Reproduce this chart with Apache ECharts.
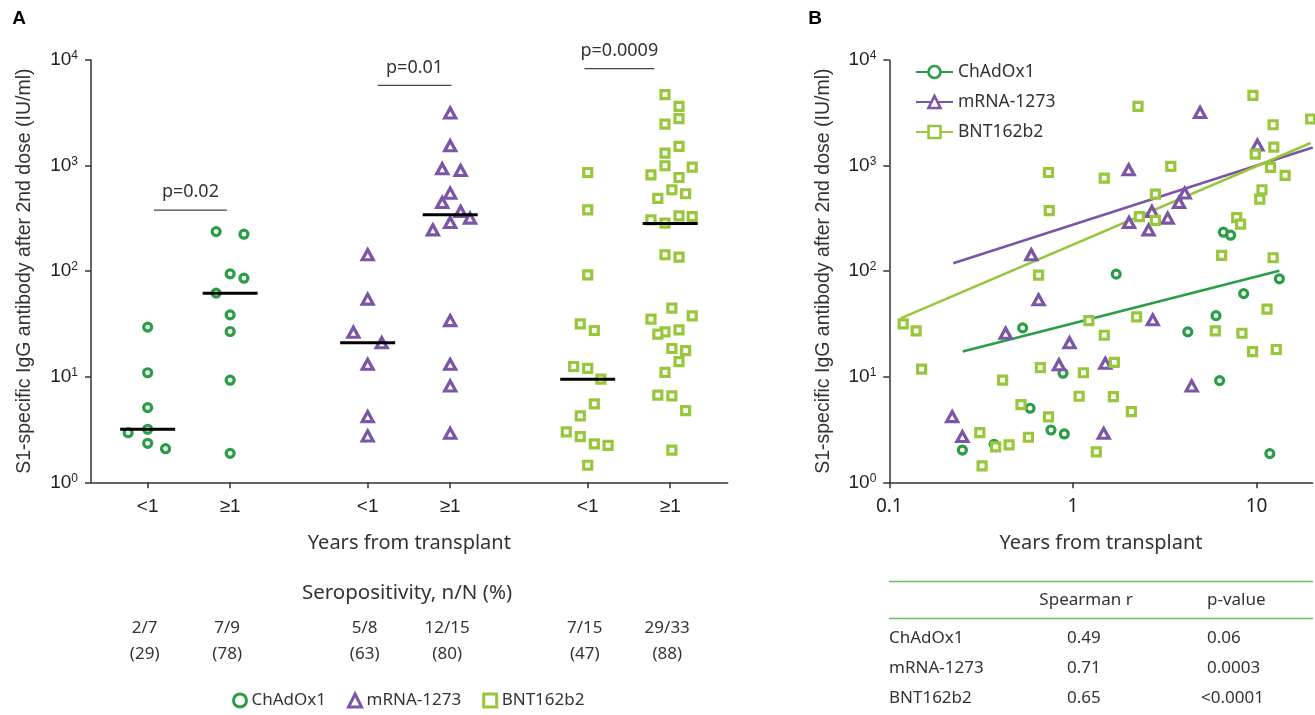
<!DOCTYPE html>
<html><head><meta charset="utf-8">
<script src="https://cdn.jsdelivr.net/npm/echarts@6/dist/echarts.min.js"></script>
<style>html,body{margin:0;padding:0;background:#fff}#c{width:1315px;height:715px}</style>
</head><body><div id="c"></div>
<script>
// ---------- shared ----------
const vaccines = ['ChAdOx1', 'mRNA-1273', 'BNT162b2'];
const colors = ['#2a9d47', '#7b55a6', '#98c73c'];
const symbols = ['circle', 'triangle', 'rect'];
const symbolSizes = [8, [11, 10], 8];
const yTitle = 'S1-specific IgG antibody after 2nd dose (IU/ml)';
const xTitle = 'Years from transplant';

// ---------- panel A ----------
const groupLabels = ['<1', '≥1', '<1', '≥1', '<1', '≥1'];
const groupPos = [0, 3, 8, 11, 16, 19];
const chadLt = [29.5, 10.9, 5.1, 3.18, 2.95, 2.34, 2.08];
const chadLtJitter = [0, 0, 0, 0, -0.71, 0, 0.65];
const chadGe = [237, 224, 94.3, 85.8, 61.9, 38.5, 26.8, 9.27, 1.88];
const chadGeJitter = [-0.51, 0.5, 0, 0.5, -0.51, 0, 0, 0, 0];
const mrnaLt = [143, 54.3, 26.4, 21.0, 13.1, 4.19, 2.75];
const mrnaLtJitter = [0, 0, -0.52, 0.51, 0, 0, 0];
const mrnaGe = [3147, 1542, 933, 899, 548, 447, 367, 318, 289, 246, 34.0, 13.1, 8.18, 2.91];
const mrnaGeJitter = [0, 0, -0.29, 0.38, 0, -0.29, 0.38, 0.72, 0, -0.63, 0, 0, 0, 0];
const bntLt = [860, 381, 92.2, 31.7, 27.4, 12.5, 12.0, 9.47, 5.52, 4.25, 3.0, 2.71, 2.31, 2.24, 1.45];
const bntLtJitter = [0, 0, 0, -0.27, 0.24, -0.51, 0, 0.48, 0.24, -0.27, -0.78, -0.27, 0.24, 0.74, 0];
const bntGe = [4690, 3631, 2779, 2473, 1517, 1313, 996, 968, 818, 771, 590, 541, 488, 306, 334, 329, 285, 143, 136,
  44.6, 37.7, 35.1, 27.8, 26.6, 25.3, 18.5, 17.7, 13.9, 11.0, 6.68, 6.58, 4.77, 2.02];
const bntGeJitter = [-0.19, 0.32, 0.32, -0.19, 0.32, -0.19, -0.19, 0.8, -0.7, 0.32, 0.06, 0.56, -0.45, -0.7, 0.32, 0.8, -0.19, -0.19, 0.32,
  0.06, 0.8, -0.7, 0.32, -0.19, -0.45, 0.06, 0.56, 0.32, -0.19, -0.45, 0.06, 0.56, 0.06];
const medians = [3.18, 61.9, 21.0, 342, 9.47, 283];
const pLabels = ['p=0.02', 'p=0.01', 'p=0.0009'];
const pStart = [0.23, 8.36, 15.88];
const pEnd = [2.88, 11.05, 18.42];
const pLevel = [378, 5741, 8277];
const seroFrac = ['2/7', '7/9', '5/8', '12/15', '7/15', '29/33'];
const seroPct = ['(29)', '(78)', '(63)', '(80)', '(47)', '(88)'];

// ---------- panel B ----------
const xTicksB = [0.1, 1, 10];
const chadB = [[0.532, 29.0], [0.883, 10.8], [0.584, 5.03], [0.759, 3.13], [0.897, 2.87], [0.372, 2.29], [0.250, 2.02],
  [1.72, 93.7], [6.59, 234], [7.22, 219], [13.3, 84.6], [8.50, 61.3], [6.01, 37.9], [4.22, 26.6], [6.29, 9.18], [11.8, 1.87]];
const mrnaB = [[0.593, 143], [0.650, 53.5], [0.430, 25.8], [0.958, 21.0], [0.839, 13.0], [0.220, 4.19], [0.250, 2.71],
  [4.92, 3187], [10.1, 1563], [2.01, 912], [4.06, 549], [3.78, 447], [2.69, 367], [3.28, 318], [2.02, 289], [2.58, 246],
  [2.72, 34.6], [1.50, 13.4], [4.43, 8.18], [1.47, 2.91]];
const bntB = [[0.736, 860], [0.743, 375], [0.650, 91.6], [0.119, 31.7], [0.140, 27.2], [0.150, 11.8], [0.414, 9.27],
  [0.664, 12.2], [1.14, 10.9], [1.22, 34.0], [1.08, 6.53], [0.521, 5.44], [0.736, 4.16], [0.311, 2.95], [0.379, 2.17],
  [0.449, 2.26], [0.572, 2.67], [0.320, 1.43], [1.34, 1.94],
  [2.26, 3631], [9.55, 4617], [12.3, 2436], [19.7, 2761], [12.4, 1497], [9.83, 1285], [3.41, 982], [11.9, 960], [1.48, 762],
  [14.3, 806], [10.7, 590], [10.4, 481], [2.81, 537], [2.30, 329], [2.81, 302], [7.79, 322], [8.18, 279], [6.45, 141],
  [12.3, 134], [11.4, 43.6], [2.22, 36.9], [1.48, 24.7], [5.96, 27.2], [8.32, 25.8], [9.51, 17.3], [12.8, 18.1],
  [1.68, 13.7], [1.66, 6.48], [2.08, 4.67]];
const chadFit = [[0.251, 17.3], [13.3, 101]];
const mrnaFit = [[0.223, 119], [20.2, 1484]];
const bntFit = [[0.116, 35.9], [19.7, 1634]];
const tableHeader = ['Spearman r', 'p-value'];
const spearmanR = ['0.49', '0.71', '0.65'];
const pValues = ['0.06', '0.0003', '<0.0001'];

// ---------- build ----------
const SANS = '"Noto Sans", sans-serif';
const ARIAL = '"Liberation Sans", Arial, sans-serif';
const INK = '#333';
const STROKE = 3.2;

function yAxisDef(gi) {
  return {
    gridIndex: gi, type: 'log', logBase: 10, min: 1, max: 10000,
    axisLine: { show: true, onZero: false, lineStyle: { color: INK, width: 1.5 } },
    axisTick: { show: true, length: 6, lineStyle: { color: INK, width: 1.5 } },
    splitLine: { show: false }, minorTick: { show: false },
    axisLabel: {
      formatter: v => '10{s|' + Math.round(Math.log10(v)) + '}',
      fontFamily: ARIAL, fontSize: 19, color: '#222', margin: 13, lineHeight: 20,
      rich: { s: { fontFamily: ARIAL, fontSize: 12, color: '#222', verticalAlign: 'top', lineHeight: 12 } }
    },
    name: yTitle, nameLocation: 'middle', nameRotate: 90, nameGap: 56,
    nameTextStyle: { fontFamily: ARIAL, fontSize: 19.5, color: INK }
  };
}

const pairs = [
  [[chadLt, chadLtJitter, 0], [chadGe, chadGeJitter, 1]],
  [[mrnaLt, mrnaLtJitter, 2], [mrnaGe, mrnaGeJitter, 3]],
  [[bntLt, bntLtJitter, 4], [bntGe, bntGeJitter, 5]]
];
const bData = [chadB, mrnaB, bntB];
const fits = [chadFit, mrnaFit, bntFit];

const markStyle = k => ({ color: '#fff', borderColor: colors[k], borderWidth: STROKE, opacity: 1 });
const series = [];
// panel B fit lines first (legend icons)
vaccines.forEach((v, k) => {
  series.push({
    name: v, type: 'line', xAxisIndex: 1, yAxisIndex: 1, data: fits[k],
    symbol: symbols[k], symbolSize: 11, showSymbol: false, silent: true,
    lineStyle: { color: colors[k], width: 2.6 },
    itemStyle: markStyle(k), z: 2
  });
});
vaccines.forEach((v, k) => {
  const data = [];
  pairs[k].forEach(([vals, jit, g]) => vals.forEach((y, i) => data.push([groupPos[g] + jit[i], y])));
  series.push({
    name: 'A:' + v, type: 'scatter', xAxisIndex: 0, yAxisIndex: 0, data,
    symbol: symbols[k], symbolSize: symbolSizes[k], clip: false, large: false,
    itemStyle: markStyle(k), z: 3
  });
  series.push({
    name: v, type: 'scatter', xAxisIndex: 1, yAxisIndex: 1, data: bData[k],
    symbol: symbols[k], symbolSize: symbolSizes[k], clip: false, large: false,
    itemStyle: markStyle(k), z: 3
  });
});
// medians
series.push({
  type: 'custom', xAxisIndex: 0, yAxisIndex: 0, z: 5, silent: true,
  data: groupPos.map((p, i) => [p, medians[i]]),
  renderItem: (params, api) => {
    const c = api.value(0), m = api.value(1);
    const a = api.coord([c - 1, m]), b = api.coord([c + 1, m]);
    return { type: 'line', shape: { x1: a[0], y1: a[1], x2: b[0], y2: b[1] }, style: { stroke: '#000', lineWidth: 3 } };
  }
});
// p-value brackets
series.push({
  type: 'custom', xAxisIndex: 0, yAxisIndex: 0, z: 5, silent: true, clip: false,
  data: pStart.map((s, i) => [s, pEnd[i], pLevel[i]]),
  encode: { x: [0, 1], y: 2 },
  renderItem: (params, api) => {
    const a = api.coord([api.value(0), api.value(2)]), b = api.coord([api.value(1), api.value(2)]);
    return {
      type: 'group', children: [
        { type: 'line', shape: { x1: a[0], y1: a[1], x2: b[0], y2: b[1] }, style: { stroke: '#444', lineWidth: 1.2 } },
        { type: 'text', style: { text: pLabels[params.dataIndex], x: (a[0] + b[0]) / 2, y: a[1] - 18,
          align: 'center', verticalAlign: 'middle', font: '18px ' + SANS, fill: INK } }
      ]
    };
  }
});

const option = {
  animation: false,
  backgroundColor: '#fff',
  textStyle: { fontFamily: SANS },
  grid: [
    { left: 91, top: 60, width: 636.7, height: 422.3 },
    { left: 889.3, top: 60, width: 423.4, height: 422.3 }
  ],
  xAxis: [
    {
      gridIndex: 0, type: 'value', min: -2.06, max: 21.09,
      axisLine: { onZero: false, lineStyle: { color: INK, width: 1.5 } },
      axisTick: { show: true, customValues: groupPos, length: 6, lineStyle: { color: INK, width: 1.5 } },
      axisLabel: { customValues: groupPos, formatter: v => groupLabels[groupPos.indexOf(Math.round(v))] || '',
        fontFamily: ARIAL, fontSize: 19, color: '#222', margin: 15 },
      splitLine: { show: false },
      name: xTitle, nameLocation: 'middle', nameGap: 51,
      nameTextStyle: { fontFamily: SANS, fontSize: 20, color: INK }
    },
    {
      gridIndex: 1, type: 'log', logBase: 10, min: 0.1, max: 20.2,
      axisLine: { onZero: false, lineStyle: { color: INK, width: 1.5 } },
      axisTick: { show: true, customValues: xTicksB, length: 6, lineStyle: { color: INK, width: 1.5 } },
      axisLabel: { customValues: xTicksB, formatter: v => String(parseFloat(Number(v).toPrecision(6))),
        fontFamily: SANS, fontSize: 19, color: '#222', margin: 15 },
      splitLine: { show: false }, minorTick: { show: false },
      name: xTitle, nameLocation: 'middle', nameGap: 51,
      nameTextStyle: { fontFamily: SANS, fontSize: 20, color: INK }
    }
  ],
  yAxis: [yAxisDef(0), yAxisDef(1)],
  legend: [
    {
      data: vaccines, orient: 'vertical', left: 910, top: 58, itemWidth: 37, itemHeight: 15, itemGap: 12,
      itemStyle: { borderWidth: 2.6 },
      textStyle: { fontFamily: SANS, fontSize: 17.5, color: INK }, selectedMode: false
    },
    {
      data: vaccines.map(v => 'A:' + v), orient: 'horizontal', left: 227, top: 687, itemWidth: 13, itemHeight: 13, itemGap: 21,
      itemStyle: { borderWidth: 3 },
      formatter: n => n.replace(/^A:/, ''),
      textStyle: { fontFamily: SANS, fontSize: 17, color: INK }, selectedMode: false
    }
  ],
  series
};

const chart = echarts.init(document.getElementById('c'), null, { renderer: 'canvas' });
chart.setOption(option);

// text annotations placed from the axis scale
const graphic = [];
const txt = (text, x, y, align, font, fill) => ({
  type: 'text', x, y, silent: true,
  style: { text, align: align, verticalAlign: 'middle', textAlign: align, textVerticalAlign: 'middle', font, fill: fill || INK }
});
graphic.push(txt('A', 19, 19, 'center', 'bold 19px ' + ARIAL, '#000'));
graphic.push(txt('B', 815, 19, 'center', 'bold 19px ' + ARIAL, '#000'));
graphic.push(txt('Seropositivity, n/N (%)', 407, 593, 'center', '20.5px ' + SANS));
groupPos.forEach((p, i) => {
  const x = chart.convertToPixel({ xAxisIndex: 0 }, p) - 3;
  graphic.push(txt(seroFrac[i], x, 628, 'center', '17px ' + SANS));
  graphic.push(txt(seroPct[i], x, 654, 'center', '17px ' + SANS));
});
// table
const tLeft = 889, tRight = 1313;
const rule = y => ({ type: 'line', silent: true, shape: { x1: tLeft, y1: y, x2: tRight, y2: y }, style: { stroke: '#6dbf6a', lineWidth: 1.5 } });
graphic.push(rule(581.5));
graphic.push(rule(618.5));
graphic.push(txt(tableHeader[0], 1086, 600, 'center', '17px ' + SANS));
graphic.push(txt(tableHeader[1], 1207, 600, 'left', '17px ' + SANS));
vaccines.forEach((v, k) => {
  const y = 638.5 + k * 30;
  graphic.push(txt(v, tLeft, y, 'left', '17px ' + SANS));
  graphic.push(txt(spearmanR[k], 1067, y, 'left', '17px ' + SANS));
  graphic.push(txt(pValues[k], pValues[k].startsWith('<') ? 1201 : 1207, y, 'left', '17px ' + SANS));
});
chart.setOption({ graphic });
</script></body></html>
